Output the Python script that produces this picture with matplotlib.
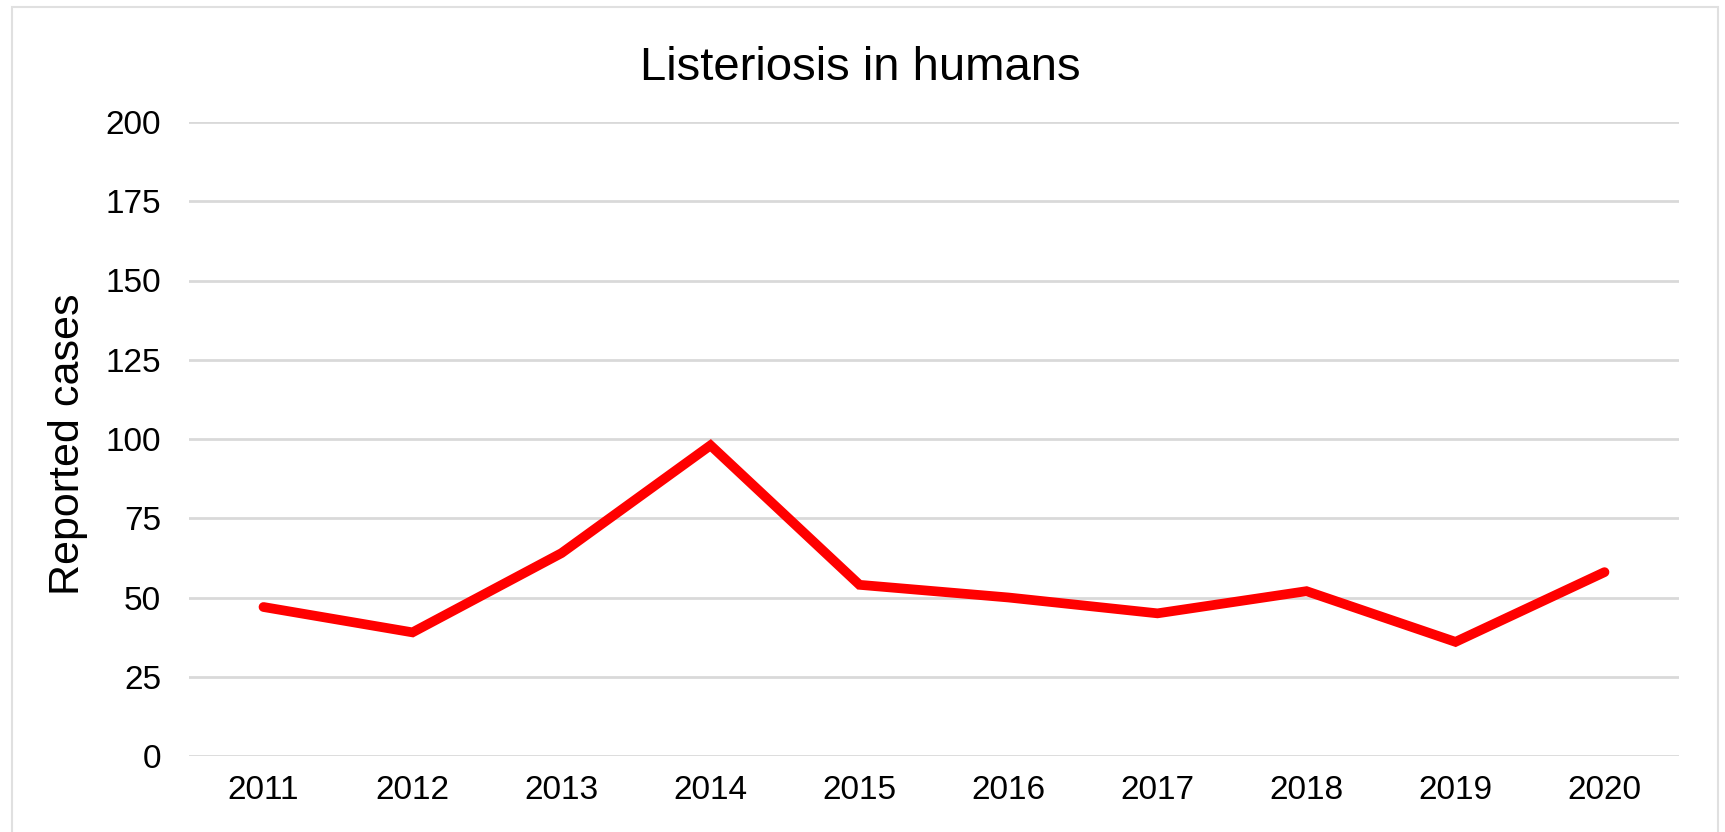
import matplotlib
matplotlib.use("Agg")
import matplotlib.pyplot as plt
from matplotlib.patches import Rectangle

# data
years = ["2011", "2012", "2013", "2014", "2015", "2016", "2017", "2018", "2019", "2020"]
cases = [47, 39, 64, 98, 54, 50, 45, 52, 36, 58]
yticks = [0, 25, 50, 75, 100, 125, 150, 175, 200]

plt.rcParams['font.family'] = ['Liberation Sans', 'DejaVu Sans']

W, H = 1725, 832
fig = plt.figure(figsize=(W / 100, H / 100), dpi=100)

# light grey frame round the chart (bottom edge runs off the image)
fig.patches.append(Rectangle((12 / W, -0.05), (1718 - 12) / W, 1.05 - 7 / H,
                             transform=fig.transFigure, fill=False,
                             edgecolor='#e0e0e0', linewidth=1.5))

ax = fig.add_axes([189 / W, 1 - 756 / H, (1679 - 189) / W, (756 - 122) / H])

x = list(range(len(years)))
ax.plot(x, cases, color='#ff0000', linewidth=7, solid_joinstyle='miter',
        solid_capstyle='round', zorder=3)

ax.set_xlim(-0.5, len(years) - 0.5)
ax.set_ylim(0, 200)
ax.set_xticks(x)
ax.set_xticklabels(years, fontsize=24)
ax.set_yticks(yticks)
ax.set_yticklabels([str(v) for v in yticks], fontsize=24)
ax.tick_params(length=0, pad=20)
ax.tick_params(axis='x', pad=14)
ax.grid(axis='y', color='#d9d9d9', linewidth=2)
ax.set_axisbelow(True)
for s in ax.spines.values():
    s.set_visible(False)

ax.set_ylabel("Reported cases", fontsize=31, va='center')
ax.yaxis.set_label_coords(-0.081, 0.492)
fig.text(860 / W, 1 - 68 / H, "Listeriosis in humans", fontsize=34,
         ha='center', va='center')

fig.savefig("out.png", dpi=100)
